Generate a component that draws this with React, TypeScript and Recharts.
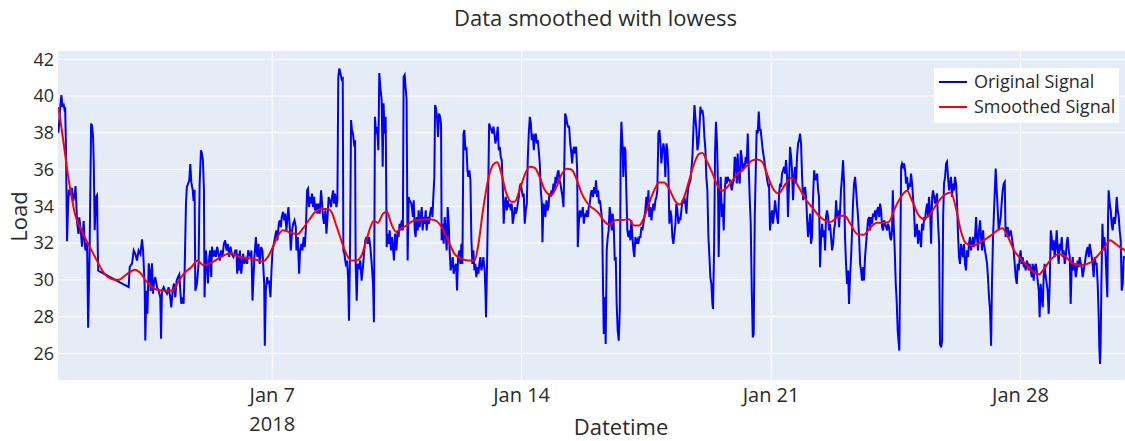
import React from "react";
import { LineChart, Line, XAxis, YAxis, CartesianGrid } from "recharts";

// [hours since 2018-01-01 00:00, load]
const originalJan1to5 = [
  [0, 38.0], [1.3, 39.5], [2, 40.05], [2.7, 39.4], [3.4, 39.6], [4, 39.3], [4.5, 39.4], [5, 37.5],
  [5.8, 32.1], [6.5, 34.0], [7, 34.9], [8, 34.6], [9, 35.0], [10, 34.3], [11, 34.7], [11.5, 35.1],
  [12.6, 33.1], [13.5, 32.5], [14, 33.4], [15, 32.7], [15.9, 31.8], [17, 33.2], [17.5, 32.3], [18.2, 31.6],
  [19.3, 32.0], [20, 27.4], [21, 31.6], [22, 38.5], [22.6, 38.4], [23.3, 37.8], [23.8, 36.3], [24.4, 32.7],
  [25.3, 34.5], [26, 34.6], [26.5, 31.6], [26.8, 30.5], [47.3, 29.6], [48, 30.7], [49.6, 30.9], [50.7, 31.6],
  [51.8, 31.4], [52.9, 31.05], [54, 31.6], [55.2, 31.4], [56.3, 32.2], [57, 31.6], [57.4, 30.9], [58.1, 29.6],
  [58.5, 26.7], [59.2, 29.4], [59.9, 28.15], [60.8, 30.9], [61.4, 30.5], [62.1, 29.4], [63, 30.9], [63.7, 29.25],
  [64.3, 29.8], [65.2, 30.15], [66.4, 29.6], [67.5, 29.4], [68.6, 29.05], [69.1, 26.8], [69.7, 29.4], [70.9, 29.6],
  [72, 29.4], [73.1, 29.25], [74.2, 29.6], [75.3, 29.05], [76, 28.5], [76.9, 29.4], [77.8, 29.8], [78.7, 29.05],
  [79.6, 29.95], [80.5, 30.15], [81.4, 30.3], [82.1, 29.4], [82.7, 28.7], [83.6, 29.05], [84.3, 28.7], [85, 30.5],
  [85.9, 34.15], [86.5, 35.05], [87.2, 35.2], [88.1, 35.4], [88.8, 36.3], [89.5, 35.3], [90.4, 34.9], [91, 34.3],
  [91.7, 34.9], [92.2, 29.4], [93.3, 29.8], [94.4, 30.9], [95.1, 35.2], [96, 37.05], [96.6, 36.9], [97.3, 36.5],
  [98, 34.9], [98.4, 29.05], [99.3, 31.6], [100, 30.9], [100.7, 29.8], [101.6, 31.25], [102.2, 31.6], [102.9, 30.15],
  [103.4, 31.8], [104.3, 31.25], [105.2, 31.6], [106.1, 31.25], [106.9, 31.8], [107.8, 31.4], [108.7, 31.05],
  [109.6, 31.6], [110.5, 31.25], [111.4, 31.95], [112.3, 32.15], [113.2, 31.6], [114.1, 31.95], [115, 31.25],
  [115.9, 31.8], [116.8, 31.4], [117.9, 31.25], [119.1, 31.6],
];

const originalJan6to10 = [
  [119.9, 31.6], [120.4, 30.33], [121.1, 31.42], [121.7, 30.51], [122.2, 31.6], [123.1, 30.33], [124, 31.05],
  [124.4, 31.42], [125.3, 30.87], [126.2, 31.24], [127.1, 30.87], [127.8, 31.6], [128.5, 31.42], [129.4, 31.24],
  [130, 31.6], [130.7, 28.87], [131.4, 30.15], [132, 31.24], [133, 32.33], [133.4, 31.6], [134.1, 31.24],
  [134.7, 31.96], [135.6, 30.87], [136.5, 31.78], [137.4, 31.6], [137.9, 30.87], [138.6, 29.78], [139, 26.42],
  [139.7, 29.42], [140.6, 30.15], [141.2, 29.78], [141.9, 29.96], [142.8, 29.05], [143.5, 30.51], [144.2, 31.6],
  [145.1, 31.96], [145.9, 32.33], [146.8, 32.69], [147.5, 32.15], [148.4, 33.05], [149.1, 33.24], [149.8, 32.87],
  [150.4, 33.42], [151.3, 33.7], [152, 33.24], [152.7, 33.6], [153.6, 32.69], [154.2, 33.42], [154.9, 33.96],
  [155.8, 32.87], [156.5, 31.6], [157.4, 32.69], [158.1, 33.05], [159, 33.24], [159.9, 32.87], [160.3, 31.6],
  [161.2, 32.33], [162.1, 30.33], [162.8, 31.6], [163.7, 31.96], [164.3, 31.6], [165.2, 32.33], [165.9, 31.78],
  [166.6, 32.69], [167.5, 34.87], [168.1, 34.96], [168.8, 33.96], [169.5, 34.51], [170.2, 34.15], [170.8, 34.69],
  [171.5, 33.96], [172.2, 34.51], [172.9, 33.78], [173.8, 34.15], [174.4, 33.6], [175.1, 34.15], [176, 33.6],
  [176.9, 34.87], [177.6, 34.15], [178.2, 33.42], [178.9, 33.05], [179.8, 33.78], [180.5, 32.51], [181.4, 33.6],
  [182, 34.51], [182.7, 34.33], [183.6, 33.96], [184.3, 34.51], [185, 34.87], [185.6, 34.15], [186.3, 34.69],
  [187.2, 33.96], [187.9, 34.33], [188.5, 41.05], [189.2, 41.5], [189.9, 41.25], [190.8, 40.9], [191.5, 40.95],
  [191.9, 31.6], [192.6, 31.42], [193.5, 30.87], [194.4, 31.05], [195.1, 30.15], [195.7, 27.78], [196.4, 31.6],
  [197.1, 38.69], [197.7, 38.15], [198.4, 37.96], [199.3, 37.24], [199.8, 37.6], [200.2, 30.87], [200.9, 28.87],
  [201.6, 30.87], [202.5, 30.69], [203.3, 31.05], [204.2, 29.96], [205.1, 30.69], [206, 31.6], [206.7, 32.15],
  [207.4, 32.33], [208.3, 31.96], [209.2, 32.33], [210.1, 31.78], [211, 30.87], [211.9, 29.78], [212.5, 27.69],
  [213.2, 38.87], [213.9, 37.96], [214.6, 38.33], [215.5, 37.05], [216.1, 41.25], [216.8, 40.5], [217.7, 39.8],
  [218.4, 36.15], [219, 39.6], [219.7, 37.96], [220.4, 38.87], [221.1, 31.78], [221.7, 32.51], [222.4, 31.96],
  [223.1, 32.69], [224, 31.6], [224.7, 32.33], [225.3, 31.78], [226, 31.05], [226.7, 32.51], [227.6, 31.6],
  [228.5, 32.69], [229.1, 32.33], [229.8, 33.05], [230.5, 32.69], [231.2, 33.24], [232, 32.69], [232.5, 41.05],
  [233.2, 41.15], [233.8, 40.5], [234.5, 39.8], [235.2, 31.05], [235.9, 34.51], [236.5, 34.33], [237.7, 34.15],
  [238.8, 33.42],
];

const originalJan11to15 = [
  [239.3, 34.33], [240, 32.69], [240.6, 32.33], [241.3, 33.42], [242, 32.69], [242.6, 33.78], [243.3, 32.87],
  [244, 33.42], [244.7, 33.96], [245.3, 32.69], [246, 33.42], [246.7, 33.05], [247.4, 33.78], [248, 32.69],
  [248.9, 33.42], [249.6, 33.05], [250.3, 33.6], [251.2, 33.96], [251.9, 33.42], [252.5, 34.51], [253.2, 35.6],
  [253.7, 39.51], [254.3, 39.33], [255, 38.87], [255.7, 37.78], [256.4, 39.05], [257, 38.87], [257.7, 38.51],
  [258.1, 32.15], [258.8, 33.05], [259.5, 31.96], [260.2, 33.42], [260.8, 32.69], [261.5, 31.6], [262.2, 33.96],
  [262.9, 33.05], [263.5, 31.6], [264.2, 30.51], [264.9, 30.87], [265.6, 31.24], [266.2, 30.33], [266.9, 30.69],
  [267.8, 30.87], [268.5, 29.42], [269.2, 31.24], [270.1, 31.6], [270.7, 30.87], [271.4, 31.96], [272.1, 30.87],
  [272.8, 37.96], [273.4, 38.15], [274.1, 37.05], [274.8, 37.24], [275.5, 35.96], [276.1, 35.6], [276.8, 35.96],
  [277.5, 35.42], [278.1, 32.33], [278.8, 30.87], [279.5, 31.6], [280.2, 30.51], [280.8, 30.87], [281.5, 30.15],
  [282.2, 30.69], [282.9, 30.33], [283.5, 30.87], [284.2, 31.24], [284.9, 30.51], [285.6, 30.87], [286.2, 31.24],
  [287.1, 30.51], [287.6, 29.42], [288, 27.96], [288.7, 30.87], [289.4, 34.33], [290.1, 38.51], [290.7, 38.33],
  [291.6, 38.15], [292.3, 37.96], [293, 38.33], [293.7, 37.96], [294.3, 37.42], [295.2, 37.78], [295.9, 38.33],
  [296.6, 37.05], [297.3, 37.24], [297.9, 36.69], [298.6, 36.51], [299.3, 35.05], [299.9, 33.05], [300.6, 34.15],
  [301.3, 34.51], [302, 33.78], [302.6, 34.33], [303.3, 33.96], [304, 34.15], [304.7, 33.78], [305.3, 34.15],
  [306, 33.05], [306.7, 33.42], [307.4, 33.96], [308, 33.6], [308.7, 33.78], [309.4, 34.15], [310.1, 34.51],
  [310.7, 35.05], [311.4, 35.24], [312.1, 34.87], [312.8, 34.51], [313.4, 34.69], [314.1, 33.05], [314.8, 33.78],
  [315.5, 34.15], [316.1, 36.51], [316.8, 37.96], [317.5, 38.87], [318.2, 38.51], [318.8, 37.6], [319.5, 37.96],
  [320.2, 37.05], [320.8, 37.78], [321.5, 37.96], [322.2, 37.42], [322.9, 37.6], [323.5, 37.05], [324.2, 36.33],
  [324.9, 34.87], [325.6, 34.15], [326, 32.05], [326.7, 34.15], [327.4, 33.96], [328, 33.42], [328.7, 34.33],
  [329.4, 33.78], [330.1, 33.96], [330.7, 34.69], [331.4, 34.51], [332.1, 34.87], [332.8, 34.69], [333.4, 35.24],
  [334.1, 34.87], [334.8, 35.6], [335.5, 35.24], [336.1, 35.78], [336.8, 35.96], [337.5, 35.42], [338.1, 35.24],
  [338.8, 34.87], [339.5, 34.51], [340.2, 33.96], [340.6, 35.6], [341.3, 39.05], [342, 38.87], [342.6, 38.51],
  [343.3, 38.33], [344, 38.33], [344.7, 37.42], [345.3, 37.05], [346, 36.33], [346.7, 37.05], [347.4, 37.24],
  [348, 36.87], [348.7, 37.24], [349.4, 35.96], [349.8, 31.78], [350.5, 33.05], [351.2, 33.78], [351.9, 33.42],
  [352.5, 33.6], [353.2, 33.96], [353.9, 33.05], [354.6, 33.6], [355.2, 33.42], [355.9, 33.78], [356.6, 33.42],
  [357.2, 33.96], [357.9, 34.15], [358.6, 34.69],
];

const originalJan16to20 = [
  [359.2, 34.87], [360.1, 34.51], [360.8, 35.05], [361.4, 34.69], [362.1, 35.42], [362.8, 34.51], [363.5, 34.87],
  [364.1, 34.15], [364.8, 34.33], [365.5, 33.78], [366.2, 33.24], [366.8, 29.78], [367.3, 27.05], [368, 29.05],
  [368.6, 26.51], [369.3, 31.6], [370, 32.33], [370.6, 32.69], [371.3, 33.96], [372, 33.42], [372.7, 32.69],
  [373.3, 33.6], [374, 33.05], [374.7, 31.05], [375.4, 31.24], [376, 28.69], [376.7, 27.24], [377.4, 26.69],
  [378.1, 28.33], [378.7, 37.05], [379.2, 38.6], [379.9, 37.42], [380.5, 35.6], [381.2, 37.24], [381.9, 37.05],
  [382.5, 34.87], [383.2, 32.69], [383.9, 32.33], [384.6, 32.69], [385.2, 32.15], [385.9, 33.24], [386.6, 32.33],
  [387.3, 31.6], [387.9, 31.24], [388.6, 32.33], [389.3, 31.96], [390, 32.15], [390.6, 31.96], [391.3, 32.33],
  [392, 32.33], [392.7, 32.87], [393.3, 32.69], [394, 33.05], [394.7, 33.42], [395.3, 33.78], [396, 34.51],
  [396.7, 33.78], [397.4, 34.87], [398, 33.42], [398.7, 33.96], [399.4, 33.24], [400.1, 33.78], [400.7, 34.15],
  [401.4, 33.78], [402.1, 34.33], [402.8, 34.51], [403.4, 34.87], [404.1, 37.96], [404.8, 38.15], [405.5, 37.42],
  [406.1, 36.33], [406.8, 37.05], [407.5, 37.42], [408.1, 37.05], [408.8, 35.6], [409.5, 37.42], [410.2, 37.05],
  [410.8, 35.96], [411.5, 33.05], [412.2, 33.78], [412.9, 33.42], [413.5, 32.33], [414.2, 31.96], [414.9, 32.51],
  [415.6, 33.05], [416.2, 34.15], [416.9, 33.78], [417.6, 33.05], [418.3, 33.42], [418.9, 33.24], [419.6, 33.78],
  [420.3, 34.33], [420.9, 34.15], [421.6, 34.51], [422.3, 34.15], [423, 33.6], [423.6, 34.51], [424.3, 35.05],
  [425, 35.24], [425.7, 35.42], [426.3, 35.96], [427, 36.69], [427.7, 38.15], [428.4, 39.51], [429, 38.87],
  [429.7, 38.15], [430.4, 37.05], [431.1, 37.42], [431.7, 38.15], [432.4, 39.42], [433.1, 39.05], [433.7, 39.24],
  [434.4, 38.87], [435.1, 37.78], [435.8, 37.05], [436.4, 35.6], [437.1, 34.87], [437.8, 32.33], [438.5, 31.24],
  [439.1, 30.15], [439.8, 29.78], [440.5, 28.69], [440.9, 28.42], [441.6, 31.6], [442.3, 37.05], [442.9, 38.6],
  [443.6, 37.42], [444.3, 34.87], [444.7, 31.24], [445.4, 34.51], [446.1, 35.6], [446.8, 33.42], [447.4, 34.15],
  [448.1, 32.69], [448.8, 34.87], [449.5, 35.6], [450.1, 35.24], [450.8, 35.6], [451.5, 35.42], [452.2, 35.42],
  [452.8, 35.24], [453.5, 34.87], [454.2, 35.24], [454.9, 35.42], [455.5, 36.69], [456.2, 36.51], [456.9, 35.24],
  [457.5, 36.87], [458.2, 35.6], [458.9, 35.24], [459.6, 37.05], [460.2, 36.69], [460.9, 35.96], [461.6, 36.33],
  [462.3, 36.15], [462.9, 36.69], [463.6, 36.33], [464.3, 37.96], [465, 35.96], [465.6, 34.51], [466.3, 33.05],
  [467, 29.42], [467.7, 26.87], [468.3, 27.05], [469, 33.42], [469.7, 35.96], [470.3, 38.15], [471, 37.96],
  [471.7, 39.15], [472.4, 38.15], [473, 38.15], [473.7, 37.6], [474.4, 37.05], [475.1, 36.69], [475.7, 36.33],
  [476.4, 35.96], [477.1, 35.6], [477.8, 35.24], [478.4, 35.05],
];

const originalJan21to25 = [
  [478.6, 35.24], [479.3, 32.69], [480, 33.42], [480.7, 33.78], [481.3, 33.05], [482, 33.6], [482.7, 34.33],
  [483.4, 33.78], [484, 33.42], [484.7, 33.05], [485.4, 34.69], [486.1, 35.24], [486.7, 35.05], [487.4, 35.78],
  [488.1, 35.96], [488.8, 36.15], [489.4, 35.78], [490.1, 36.51], [490.8, 35.6], [491.4, 33.42], [492.1, 35.24],
  [492.8, 37.24], [493.5, 36.69], [494.1, 35.96], [494.8, 34.33], [495.5, 35.6], [496.2, 36.15], [496.8, 35.24],
  [497.5, 36.69], [498.2, 37.42], [498.9, 37.6], [499.5, 37.96], [500.2, 37.42], [500.9, 35.6], [501.6, 34.33],
  [502.2, 34.87], [502.9, 35.05], [503.6, 34.51], [504.2, 33.42], [504.9, 32.33], [505.6, 32.87], [506.3, 33.6],
  [506.9, 31.96], [507.6, 32.33], [508.3, 34.51], [509, 35.96], [509.6, 35.6], [510.3, 35.42], [511, 35.78],
  [511.7, 34.87], [512.3, 34.51], [513, 30.69], [513.7, 32.33], [514.4, 33.05], [515, 32.33], [515.7, 32.69],
  [516.4, 31.6], [517, 33.42], [517.7, 33.78], [518.4, 33.42], [519.1, 32.69], [519.7, 33.05], [520.4, 32.33],
  [521.1, 31.6], [521.8, 31.96], [522.4, 32.69], [523.1, 33.05], [523.8, 34.33], [524.5, 33.42], [525.1, 33.78],
  [525.8, 32.87], [526.5, 33.78], [527.1, 34.87], [527.8, 35.6], [528.5, 36.51], [529.2, 35.24], [529.8, 32.33],
  [530.5, 30.87], [531.2, 29.78], [531.9, 30.51], [532.5, 28.69], [533.2, 30.15], [533.9, 31.24], [534.6, 32.69],
  [535.2, 34.15], [535.9, 35.24], [536.6, 35.6], [537.3, 34.87], [537.9, 34.15], [538.6, 33.42], [539.3, 32.33],
  [540, 30.87], [540.6, 30.51], [541.3, 29.96], [542, 30.69], [542.6, 29.96], [543.3, 31.24], [544, 31.96],
  [544.7, 32.69], [545.3, 33.24], [546, 33.42], [546.7, 32.69], [547.4, 33.42], [548, 33.05], [548.7, 33.6],
  [549.4, 33.42], [550.1, 33.78], [550.7, 33.24], [551.4, 33.78], [552.1, 33.96], [552.8, 33.42], [553.4, 34.15],
  [554.1, 33.78], [554.8, 32.87], [555.4, 32.69], [556.1, 33.24], [556.8, 33.05], [557.5, 32.87], [558.1, 32.69],
  [558.8, 33.05], [559.5, 32.87], [560.2, 32.33], [560.8, 32.15], [561.5, 32.69], [562, 34.87], [562.6, 33.05],
  [563.3, 31.6], [564, 29.78], [564.6, 28.87], [565.3, 27.24], [566, 26.51], [566.4, 26.15], [567.1, 31.6],
  [567.6, 36.15], [568.2, 36.33], [568.9, 36.15], [569.6, 36.33], [570.3, 35.96], [570.9, 35.24], [571.6, 35.6],
  [572.3, 34.87], [573, 35.24], [573.6, 35.05], [574.3, 35.78], [575, 35.24], [575.6, 34.51], [576.3, 33.78],
  [577, 32.33], [577.7, 32.69], [578.3, 33.05], [579, 31.96], [579.7, 32.69], [580.4, 32.33], [581, 31.78],
  [581.7, 33.05], [582.4, 32.69], [583.1, 33.42], [583.7, 33.24], [584.4, 33.78], [585.1, 34.15], [585.8, 33.42],
  [586.4, 34.51], [587.1, 33.78], [587.8, 31.96], [588.5, 34.51], [589.1, 34.87], [589.8, 34.51], [590.5, 34.15],
  [591.2, 34.51], [591.8, 34.69], [592.5, 33.05], [593.2, 31.96], [593.8, 26.51], [594.5, 26.33], [595.2, 26.69],
  [595.9, 33.42], [596.5, 35.24], [597.2, 35.6], [597.9, 36.33],
];

const originalJan26to30 = [
  [598.5, 36.42], [599.2, 35.6], [599.9, 34.87], [600.5, 35.24], [601.2, 35.6], [601.9, 34.51], [602.6, 35.24],
  [603.2, 34.87], [603.9, 35.6], [604.6, 35.24], [605.3, 34.15], [605.9, 32.51], [606.6, 31.24], [607.3, 30.87],
  [608, 31.96], [608.6, 31.6], [609.3, 31.24], [610, 31.96], [610.6, 30.87], [611.3, 30.51], [612, 31.6],
  [612.7, 31.24], [613.3, 31.96], [614, 32.33], [614.7, 31.6], [615.4, 31.96], [616, 32.33], [616.7, 31.78],
  [617.4, 32.33], [618.1, 33.42], [618.7, 32.33], [619.4, 31.6], [620.1, 32.69], [620.8, 33.24], [621.4, 32.33],
  [622.1, 31.6], [622.8, 32.69], [623.4, 31.96], [624.1, 31.6], [624.8, 31.24], [625.5, 30.87], [626.1, 30.15],
  [626.8, 29.05], [627.5, 28.33], [628.2, 26.42], [628.8, 29.78], [629.5, 32.33], [630.2, 33.78], [630.9, 35.24],
  [631.3, 36.05], [632, 34.87], [632.7, 33.78], [633.3, 32.69], [634, 33.05], [634.7, 33.42], [635.3, 34.15],
  [636, 34.87], [636.7, 35.24], [637.4, 35.33], [638, 32.33], [638.7, 32.69], [639.4, 32.87], [640.1, 32.33],
  [640.7, 32.51], [641.4, 32.69], [642.1, 32.33], [642.8, 31.96], [643.4, 31.6], [644.1, 30.87], [644.8, 30.15],
  [645.5, 29.78], [646.1, 30.87], [646.8, 30.51], [647.5, 31.24], [648.1, 31.6], [648.8, 30.87], [649.5, 31.24],
  [650.2, 30.69], [650.8, 30.87], [651.5, 30.51], [652.2, 31.05], [652.9, 30.87], [653.5, 30.51], [654.2, 30.87],
  [654.9, 30.51], [655.6, 30.15], [656.2, 30.87], [656.9, 29.96], [657.6, 30.69], [658.3, 30.87], [658.9, 30.51],
  [659.6, 29.96], [660.3, 29.42], [660.9, 27.96], [661.6, 29.78], [662.3, 29.05], [663, 28.51], [663.6, 30.15],
  [664.3, 30.87], [665, 30.15], [665.7, 29.78], [666.3, 29.42], [667, 28.15], [667.7, 29.78], [668.4, 32.69],
  [669, 32.33], [669.7, 31.6], [670.4, 32.15], [671, 31.24], [671.7, 31.78], [672.4, 32.69], [673.1, 31.6],
  [673.7, 30.87], [674.4, 31.96], [675.1, 31.6], [675.8, 32.33], [676.4, 31.24], [677.1, 31.6], [677.8, 30.87],
  [678.5, 31.24], [679.1, 31.96], [679.8, 32.33], [680.5, 31.6], [681.2, 31.24], [681.8, 28.69], [682.5, 30.69],
  [683.2, 31.24], [683.8, 30.51], [684.5, 30.87], [685.2, 30.15], [685.9, 30.51], [686.5, 31.05], [687.2, 30.69],
  [687.9, 31.24], [688.6, 30.87], [689.2, 30.69], [689.9, 30.15], [690.6, 30.51], [691.3, 30.87], [691.9, 31.24],
  [692.6, 31.6], [693.3, 31.78], [694, 31.24], [694.6, 31.96], [695.3, 31.6], [696, 31.24], [696.6, 30.87],
  [697.3, 30.15], [698, 31.24], [698.7, 30.87], [699.3, 30.87], [700, 29.78], [700.7, 27.96], [701.1, 26.33],
  [701.6, 25.42], [702, 26.51], [702.5, 29.78], [703.2, 33.05], [703.8, 31.6], [704.5, 32.33], [705.2, 31.6],
  [705.9, 30.15], [706.5, 29.05], [707, 33.42], [707.4, 34.87], [708.1, 34.15], [708.8, 33.78], [709.4, 33.05],
  [710.1, 32.69], [710.8, 33.42], [711.5, 33.05], [712.1, 33.42], [712.8, 34.51], [713.5, 33.78], [714.2, 33.42],
  [714.8, 32.69], [715.5, 32.15], [716.2, 29.42], [716.9, 29.78], [717.5, 31.24], [718.5, 31.2],
];

const smoothedSignal = [
  [0, 39.4], [2, 38.3], [4.4, 36.9], [6.6, 35.6], [8.9, 34.5], [11.1, 33.6], [13.4, 33.05], [15.6, 32.7],
  [17.8, 32.3], [20.1, 31.95], [22.3, 31.6], [24.6, 31.25], [26.8, 30.9], [31.3, 30.3], [35.8, 30.05],
  [40.3, 30.0], [45.9, 30.3], [51.5, 30.55], [54.9, 30.4], [59.4, 29.9], [65, 29.5], [71.7, 29.4],
  [77.4, 29.45], [80.7, 29.9], [85.2, 30.4], [89.7, 30.7], [93.7, 31.05], [97.6, 30.8], [100.9, 30.85],
  [107.7, 31.15], [113.3, 31.4], [116.6, 31.45], [118.9, 31.35], [124.3, 31.2], [131, 31.15], [137.3, 31.0],
  [141.1, 31.25], [144.5, 31.8], [147.9, 32.4], [151.2, 32.7], [153.5, 32.65], [156.8, 32.55], [161.3, 32.5],
  [164.7, 32.8], [169.2, 33.3], [173.7, 33.75], [178.2, 33.85], [181.5, 33.85], [183.8, 33.7], [187.2, 32.95],
  [190.5, 32.15], [193.9, 31.4], [197.3, 31.05], [200.6, 31.05], [204, 31.3], [207.4, 32.15], [210.1, 32.85],
  [212.3, 33.2], [215.2, 33.1], [218.6, 33.6], [221.3, 33.7], [224.2, 33.05], [227.6, 32.6], [230.9, 32.8],
  [234.3, 32.95], [238.8, 33.2], [242.2, 33.25], [248.9, 33.3], [253.4, 33.25], [257.9, 32.9], [262.4, 32.15],
  [266.9, 31.4], [271.4, 31.15], [275.9, 31.05], [280.4, 31.05], [282.6, 31.8], [286, 33.8], [289.3, 35.4],
  [292.7, 36.25], [295.6, 36.4], [298.3, 35.8], [301.7, 34.7], [305.1, 34.25], [307.3, 34.25], [310.7, 34.9],
  [314, 35.7], [317.4, 36.15], [320.8, 36.1], [324.1, 35.6], [327.5, 34.9], [332, 34.6], [335.4, 35.05],
  [338.7, 35.7], [342.1, 36.05], [345.5, 36.0], [348.9, 35.5], [352.2, 34.75], [355.6, 34.25], [358.9, 33.95],
  [360.8, 33.85], [364.1, 33.6], [367.5, 33.2], [371.3, 33.0], [375.4, 33.25], [379.9, 33.25], [384.3, 33.3],
  [387.7, 32.95], [391.1, 32.95], [394.5, 33.4], [397.8, 34.15], [401.2, 34.85], [404.6, 35.3], [407.9, 35.3],
  [411.3, 34.95], [415.3, 34.3], [418.5, 34.1], [421.4, 34.5], [424.8, 35.4], [428.1, 36.3], [431.5, 36.85],
  [433.7, 36.9], [437.1, 36.4], [440.5, 35.8], [443.8, 35.15], [447.2, 34.85], [450.6, 35.05], [453.9, 35.4],
  [457.3, 35.75], [460.7, 35.95], [464.1, 36.25], [467.4, 36.5], [470.8, 36.55], [474.2, 36.4], [476.4, 35.95],
  [478.5, 35.5], [480.7, 35.05], [485.2, 34.7], [489.6, 35.2], [494.1, 35.55], [498.6, 35.05], [503.1, 34.4],
  [507.6, 33.95], [513.2, 33.4], [520, 33.15], [524.5, 33.4], [529.4, 33.5], [533.4, 33.05], [537.9, 32.5],
  [542.4, 32.45], [546.9, 32.85], [551.4, 33.1], [555.9, 33.1], [559.3, 33.15], [563.7, 33.95], [568.2, 34.6],
  [571.6, 34.85], [575, 34.3], [579.5, 33.5], [582.8, 33.3], [587.3, 33.6], [591.8, 34.15], [595.2, 34.5],
  [598.6, 34.7], [601, 34.75], [604.4, 33.95], [607.7, 32.7], [611.1, 32.0], [615.6, 31.85], [621.2, 32.05],
  [627.9, 32.4], [635.8, 32.8], [639.2, 32.4], [643.7, 31.6], [648.1, 31.15], [652.6, 30.75], [657.1, 30.4],
  [660.5, 30.3], [663.9, 30.6], [668.4, 31.1], [674, 31.4], [678.5, 31.25], [682.9, 30.9], [688.6, 30.8],
  [695.3, 30.95], [700.9, 31.4], [705.4, 31.85], [708.3, 32.15], [712.1, 31.95], [717.5, 31.65], [719, 31.6],
];

const seriesNames = ["Original Signal", "Smoothed Signal"];
const seriesColors = ["#0000ff", "#ff0000"];

const xTickHours = [144, 312, 480, 648];
const xTickLabels = ["Jan 7", "Jan 14", "Jan 21", "Jan 28"];
const yTicks = [26, 28, 30, 32, 34, 36, 38, 40, 42];

const toRows = (pairs: number[][]) => pairs.map(([h, load]) => ({ h, load }));

const originalData = toRows([
  ...originalJan1to5,
  ...originalJan6to10,
  ...originalJan11to15,
  ...originalJan16to20,
  ...originalJan21to25,
  ...originalJan26to30,
]);
const smoothedData = toRows(smoothedSignal);

const W = 1125;
const H = 441;
const FONT = "'Open Sans', 'Noto Sans', sans-serif";
const TEXT = "#2a2a2a";

function DateTick(props: any) {
  const { x, y, payload } = props;
  const i = xTickHours.indexOf(payload.value);
  return (
    <g fontFamily={FONT} fontSize={20} fill={TEXT}>
      <text x={x} y={y + 14} textAnchor="middle">
        {xTickLabels[i]}
      </text>
      {i === 0 && (
        <text x={x} y={y + 43} textAnchor="middle">
          2018
        </text>
      )}
    </g>
  );
}

// legend box drawn over the plot, upper right like the plotly one
function SignalLegend() {
  return (
    <div
      style={{
        position: "absolute",
        left: 934,
        top: 68,
        width: 185,
        height: 55,
        background: "#ffffff",
        boxSizing: "border-box",
        paddingTop: 1,
        fontFamily: FONT,
        fontSize: 18,
        color: TEXT,
      }}
    >
      {seriesNames.map((name, i) => (
        <div key={name} style={{ display: "flex", alignItems: "center", height: 25 }}>
          <span
            style={{
              display: "inline-block",
              width: 28,
              height: 2,
              marginLeft: 5,
              marginRight: 7,
              background: seriesColors[i],
            }}
          />
          <span style={{ whiteSpace: "nowrap", lineHeight: "25px" }}>{name}</span>
        </div>
      ))}
    </div>
  );
}

export default function App() {
  return (
    <div style={{ position: "absolute", left: 0, top: 0, width: W, height: H, background: "#fff" }}>
      <LineChart
        width={W}
        height={H}
        margin={{ top: 51, right: 0, bottom: 0, left: 0 }}
        style={{ fontFamily: FONT }}
      >
        <CartesianGrid
          fill="#E5ECF6"
          stroke="#ffffff"
          strokeWidth={1}
          horizontalValues={yTicks}
          verticalValues={xTickHours}
        />
        <XAxis
          dataKey="h"
          type="number"
          domain={[-0.3, 718.4]}
          allowDataOverflow
          ticks={xTickHours}
          tick={<DateTick />}
          axisLine={false}
          tickLine={false}
          tickSize={0}
          tickMargin={8}
          height={61}
          interval={0}
        />
        <YAxis
          type="number"
          domain={[24.55, 42.45]}
          allowDataOverflow
          ticks={yTicks}
          axisLine={false}
          tickLine={false}
          tickSize={0}
          tickMargin={4}
          width={58}
          tick={{ fontSize: 18, fill: TEXT, fontFamily: FONT }}
          interval={0}
        />
        <Line
          data={originalData}
          dataKey="load"
          name={seriesNames[0]}
          type="linear"
          stroke={seriesColors[0]}
          strokeWidth={2}
          dot={false}
          isAnimationActive={false}
        />
        <Line
          data={smoothedData}
          dataKey="load"
          name={seriesNames[1]}
          type="monotone"
          stroke={seriesColors[1]}
          strokeWidth={2}
          dot={false}
          isAnimationActive={false}
        />
      </LineChart>
      <SignalLegend />
      <svg
        width={W}
        height={H}
        style={{ position: "absolute", left: 0, top: 0, pointerEvents: "none" }}
        fontFamily={FONT}
        fill={TEXT}
      >
        <text x={595.5} y={26} textAnchor="middle" fontSize={22}>
          Data smoothed with lowess
        </text>
        <text x={621} y={435} textAnchor="middle" fontSize={22}>
          Datetime
        </text>
        <text transform="translate(27,216.5) rotate(-90)" textAnchor="middle" fontSize={22}>
          Load
        </text>
      </svg>
    </div>
  );
}
